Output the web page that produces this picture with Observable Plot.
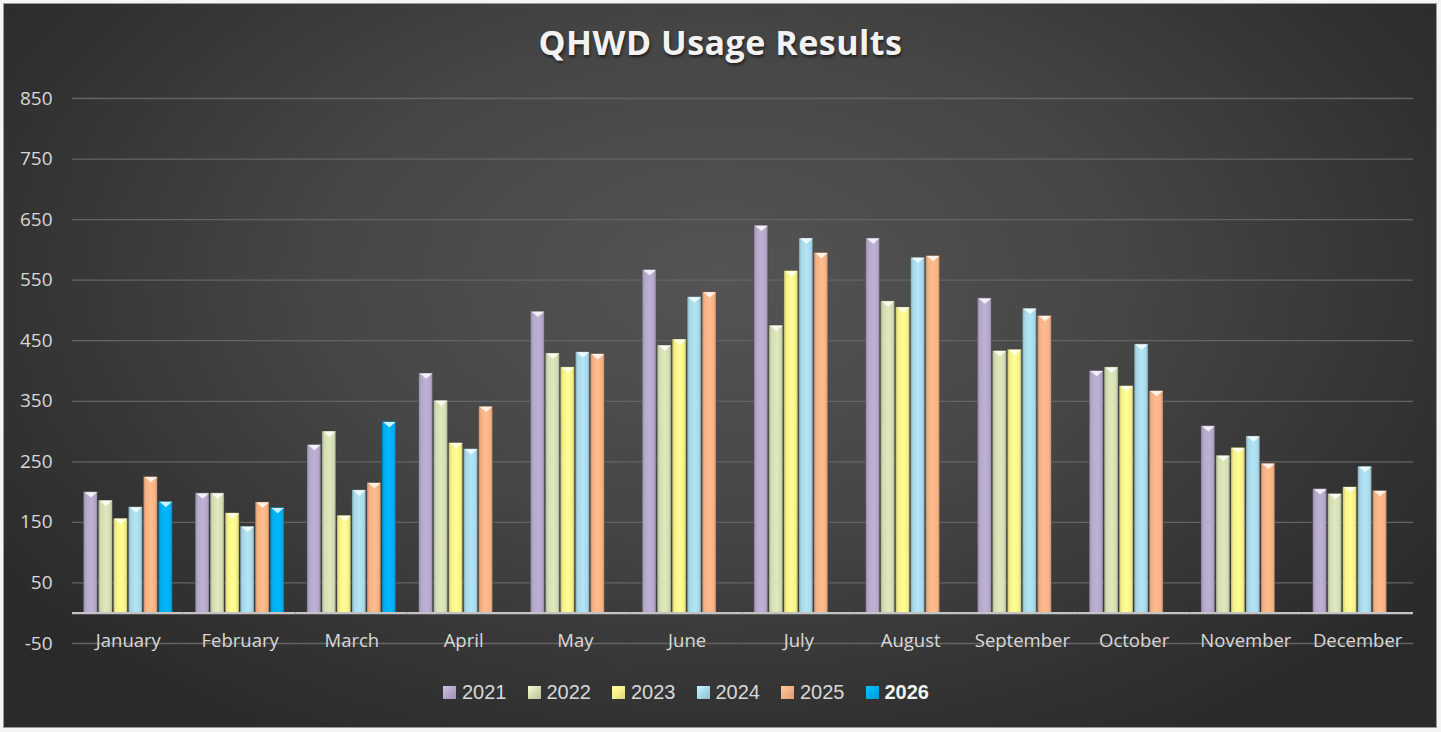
<!DOCTYPE html>
<html>
<head>
<meta charset="utf-8">
<script src="https://cdn.jsdelivr.net/npm/d3@7"></script>
<script src="https://cdn.jsdelivr.net/npm/@observablehq/plot@0.6"></script>
<style>
  html, body { margin: 0; padding: 0; background: #ffffff; }
  #page { position: relative; width: 1441px; height: 732px; overflow: hidden; background: #f4f4f4; }
  #frame {
    position: absolute; left: 3px; top: 3px; width: 1434px; height: 725px;
    background: radial-gradient(ellipse 62% 75% at 50% 38%, #545454 0%, #464646 45%, #333333 80%, #2a2a2a 100%);
    border: 1px solid #9a9a9a; box-sizing: border-box;
  }
  #title {
    position: absolute; left: 0; top: 19px; width: 1441px; text-align: center;
    font-family: "Open Sans", sans-serif; font-weight: 700; font-size: 34px; color: #f2f2f2;
    text-shadow: 1px 2px 3px rgba(0,0,0,0.6); letter-spacing: 0.5px;
  }
  #chart { position: absolute; left: 0; top: 0; width: 1441px; }
  #chart svg { max-width: none; }
  #legend {
    position: absolute; left: 443px; top: 681px; display: flex; align-items: center;
    font-family: "Liberation Sans", Arial, sans-serif; font-size: 20px; color: #d9d9d9;
  }
  .item { display: flex; align-items: center; margin-right: 21px; }
  .sw { width: 13px; height: 13px; margin-right: 6px; box-sizing: border-box; }
</style>
</head>
<body>
<div id="page">
  <div id="frame"></div>
  <div id="title">QHWD Usage Results</div>
  <div id="chart"></div>
  <div id="legend"></div>
</div>
<script>
// ---- data ----
const months = ["January","February","March","April","May","June","July","August","September","October","November","December"];
const years = ["2021","2022","2023","2024","2025","2026"];
const v2021 = [200, 198, 278, 396, 498, 567, 640, 619, 520, 400, 309, 205];
const v2022 = [186, 198, 300, 351, 429, 442, 475, 515, 433, 406, 260, 197];
const v2023 = [156, 165, 161, 281, 406, 452, 565, 505, 435, 375, 273, 208];
const v2024 = [175, 143, 203, 271, 431, 522, 619, 587, 503, 444, 292, 242];
const v2025 = [225, 183, 215, 341, 428, 530, 595, 590, 491, 367, 247, 202];
const v2026 = [184, 174, 316];
const yTicks = [-50, 50, 150, 250, 350, 450, 550, 650, 750, 850];
const colors = {"2021": "#b5a8ca", "2022": "#d3ddb3", "2023": "#f6f18b", "2024": "#a9d9e9", "2025": "#f6b285", "2026": "#00aeef"};

const series = {"2021": v2021, "2022": v2022, "2023": v2023, "2024": v2024, "2025": v2025, "2026": v2026};
const data = [];
for (const y of years) series[y].forEach((v, i) => data.push({month: months[i], year: y, value: v}));

// flat inverted-triangle bevel symbol
const bevel = {
  draw(ctx, size) {
    const r = Math.sqrt(size / Math.PI);
    ctx.moveTo(-r, -r * 0.42);
    ctx.lineTo(r, -r * 0.42);
    ctx.lineTo(0, r * 0.42);
    ctx.closePath();
  }
};

const txt = "#d9d9d9";
const marks = [
  Plot.gridY(yTicks, {stroke: "#646464", strokeOpacity: 1, strokeWidth: 1.3}),
  Plot.axisY({ticks: yTicks, tickSize: 0, tickPadding: 20, tickFormat: d => String(d), fill: txt, fontSize: 19, fontFamily: "Open Sans", label: null}),
  Plot.text(months, {fx: d => d, y: () => -50, text: d => d, fill: txt, fontSize: 18.5, fontFamily: "Open Sans", dy: -2})
];
for (const y of years) {
  marks.push(Plot.barY(data.filter(d => d.year === y), {fx: "month", x: "year", y: "value", fill: `url(#grad${y})`, stroke: "#2a2a2a", strokeOpacity: 0.35, strokeWidth: 0.6}));
}
marks.push(Plot.dot(data, {fx: "month", x: "year", y: "value", symbol: bevel, r: 6.3, fill: "#ffffff", fillOpacity: 0.8, stroke: "none", dy: 2.7}));
marks.push(Plot.ruleY([0], {stroke: "#c4c4c4", strokeWidth: 2.2}));

const chart = Plot.plot({
  width: 1441,
  height: 673,
  marginLeft: 72,
  marginRight: 28,
  marginTop: 98,
  marginBottom: 30,
  style: {background: "transparent", color: txt, overflow: "visible"},
  fx: {domain: months, padding: 0, round: false, axis: null, label: null},
  x: {domain: years, paddingInner: 0.07, paddingOuter: 0.76, round: false, axis: null, label: null},
  y: {domain: [-50, 850], axis: null, label: null},
  marks
});

// gradient defs for 3D-like bars
const ns = "http://www.w3.org/2000/svg";
const defs = document.createElementNS(ns, "defs");
for (const y of years) {
  const base = d3.color(colors[y]);
  const g = document.createElementNS(ns, "linearGradient");
  g.setAttribute("id", `grad${y}`);
  g.setAttribute("x1", "0"); g.setAttribute("x2", "1"); g.setAttribute("y1", "0"); g.setAttribute("y2", "0");
  const stops = [[0, base.darker(0.6)], [0.18, base], [0.55, base.brighter(0.15)], [0.85, base], [1, base.darker(0.7)]];
  for (const [o, c] of stops) {
    const s = document.createElementNS(ns, "stop");
    s.setAttribute("offset", o);
    s.setAttribute("stop-color", c.formatHex());
    g.appendChild(s);
  }
  defs.appendChild(g);
}
chart.insertBefore(defs, chart.firstChild);
document.getElementById("chart").appendChild(chart);

// legend
const legend = document.getElementById("legend");
for (const y of years) {
  const item = document.createElement("div");
  item.className = "item";
  const sw = document.createElement("div");
  sw.className = "sw";
  const c = d3.color(colors[y]);
  sw.style.background = `linear-gradient(135deg, ${c.brighter(0.4).formatHex()}, ${c.formatHex()} 50%, ${c.darker(0.4).formatHex()})`;
  const t = document.createElement("span");
  t.textContent = y;
  if (y === "2026") { t.style.fontWeight = "700"; t.style.color = "#f2f2f2"; }
  item.appendChild(sw); item.appendChild(t);
  legend.appendChild(item);
}
</script>
</body>
</html>
